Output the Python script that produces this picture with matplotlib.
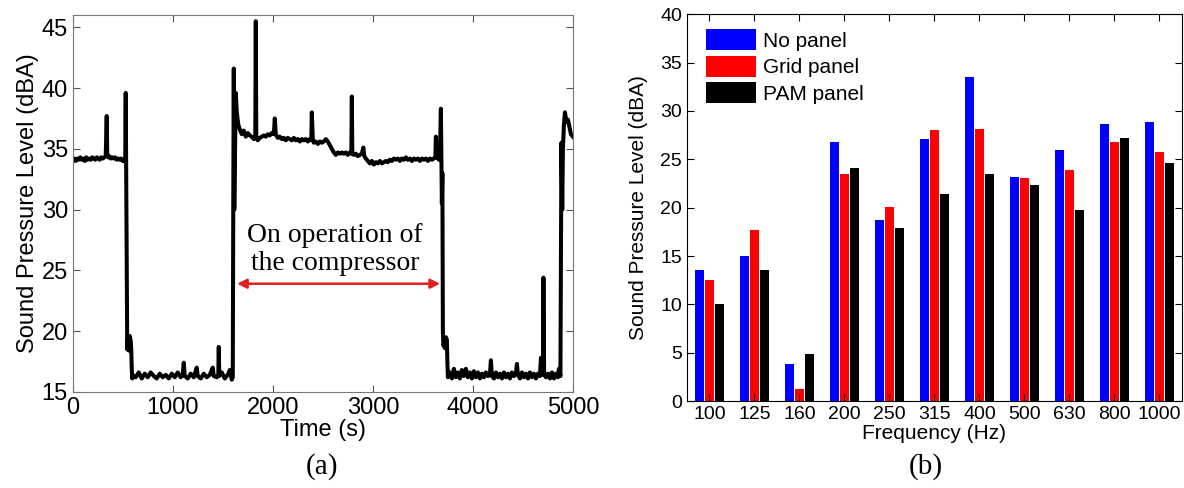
import matplotlib
matplotlib.use('Agg')
import matplotlib.pyplot as plt
import numpy as np

plt.rcParams['font.family'] = ['Liberation Sans', 'DejaVu Sans']

# (a) sound pressure level vs time
time_s = [0, 15, 30, 45, 60, 75, 90, 105, 120, 135, 150, 165, 180, 195, 210, 225, 240, 255, 270, 285,
          300, 315, 330, 340, 345, 350, 355, 365, 380, 395, 410, 425, 440, 455, 470, 485, 500, 515,
          525, 530, 535, 545, 550, 560, 570, 580, 585, 590, 595, 600,
          630, 660, 690, 720, 750, 780, 810, 840, 870, 900, 930, 960, 990, 1020, 1050, 1080, 1100, 1110,
          1120, 1150, 1180, 1210, 1240, 1250, 1280, 1310, 1340, 1370, 1400, 1410, 1440, 1455, 1460, 1465,
          1490, 1520, 1550, 1570, 1590, 1600,
          1605, 1610, 1615, 1620, 1630, 1640, 1655, 1670, 1690, 1710, 1730, 1750, 1770, 1790, 1810, 1825,
          1830, 1835, 1850, 1870, 1890, 1910, 1930, 1950, 1970, 1990, 2010, 2020, 2030, 2050, 2070, 2090,
          2110, 2130, 2150, 2170, 2190, 2210, 2230, 2250, 2270, 2290, 2310, 2330, 2350, 2370, 2385, 2390,
          2400, 2410, 2430, 2450, 2470, 2490, 2510, 2530, 2550, 2570, 2590, 2610, 2630, 2650, 2670, 2690,
          2710, 2730, 2750, 2770, 2785, 2790, 2795, 2810, 2830, 2850, 2870, 2890, 2905, 2915, 2930, 2950,
          2970, 2990, 3010, 3030, 3050, 3070, 3090, 3110, 3130, 3150, 3170, 3190, 3210, 3230, 3250, 3270,
          3290, 3310, 3330, 3350, 3370, 3390, 3410, 3430, 3450, 3470, 3490, 3510, 3530, 3550, 3570, 3590,
          3610, 3625, 3630, 3640, 3660, 3670, 3680, 3690, 3695, 3700, 3705, 3715, 3720, 3730, 3740, 3745,
          3750, 3770, 3790, 3810, 3830, 3850, 3870, 3890, 3910, 3930, 3950, 3970, 3990, 4010, 4030, 4050,
          4070, 4090, 4110, 4130, 4150, 4170, 4180, 4190, 4210, 4230, 4250, 4270, 4290, 4310, 4330, 4350,
          4370, 4390, 4410, 4430, 4440, 4450, 4470, 4490, 4510, 4530, 4550, 4570, 4590, 4610, 4630, 4650,
          4670, 4680, 4690, 4700, 4705, 4712, 4730, 4750, 4770, 4790, 4810, 4830, 4850, 4860, 4875,
          4885, 4893, 4900, 4910, 4920, 4935, 4950, 4965, 4980, 5000]
spl_dba = [34.0, 34.2, 34.0, 34.2, 34.1, 34.3, 34.1, 34.2, 34.0, 34.3, 34.1, 34.2, 34.1, 34.3, 34.2, 34.1, 34.3, 34.2, 34.1, 34.3,
           34.2, 34.3, 34.4, 37.7, 34.6, 34.5, 34.3, 34.4, 34.2, 34.3, 34.2, 34.3, 34.1, 34.2, 34.1, 34.2, 34.0, 34.1,
           33.9, 39.6, 33.0, 18.5, 19.3, 18.4, 19.6, 19.2, 18.5, 17.0, 16.1, 16.4,
           16.2, 16.6, 16.1, 16.5, 16.2, 16.6, 16.3, 16.1, 16.5, 16.2, 16.4, 16.1, 16.5, 16.2, 16.6, 16.2, 16.4, 17.4,
           16.3, 16.1, 16.5, 16.2, 17.0, 16.3, 16.1, 16.5, 16.2, 16.4, 17.0, 16.3, 16.2, 16.3, 18.7, 16.3,
           16.6, 16.1, 16.4, 16.8, 16.0, 16.2,
           30.5, 41.6, 30.0, 33.0, 39.6, 38.0, 37.0, 36.6, 36.2, 36.5, 36.0, 36.3, 36.1, 36.0, 35.8, 36.0,
           45.5, 35.9, 35.7, 35.9, 36.0, 36.1, 36.0, 36.2, 36.1, 36.3, 36.2, 37.5, 36.2, 35.9, 36.0, 35.8,
           35.9, 35.7, 35.9, 35.8, 35.7, 35.9, 35.7, 35.8, 35.6, 35.8, 35.7, 35.8, 35.6, 35.8, 35.7, 38.0,
           35.8, 35.5, 35.6, 35.4, 35.6, 35.5, 35.6, 35.8, 35.6, 35.3, 35.0, 34.7, 34.5, 34.7, 34.6, 34.7,
           34.6, 34.7, 34.5, 34.7, 34.6, 39.3, 34.6, 34.5, 34.6, 34.4, 34.5, 34.6, 35.1, 34.4, 34.2, 34.0,
           33.8, 34.0, 33.7, 33.9, 33.8, 34.0, 33.8, 33.9, 34.0, 33.9, 34.1, 34.0, 34.2, 34.1, 34.2, 34.0,
           34.2, 34.1, 34.3, 34.1, 34.2, 34.0, 34.2, 34.1, 34.2, 34.0, 34.2, 34.1, 34.2, 34.0, 34.2, 34.1,
           34.2, 34.3, 36.0, 34.3, 34.1, 34.3, 38.3, 30.5, 33.0, 20.0, 18.8, 19.0, 18.6, 19.5, 19.3, 17.5,
           16.2, 16.6, 16.1, 16.9, 16.2, 16.6, 16.1, 16.8, 16.3, 16.9, 16.2, 16.6, 16.1, 16.7, 16.2, 16.6,
           16.1, 16.5, 16.2, 16.6, 16.3, 16.4, 17.6, 16.3, 16.1, 16.6, 16.2, 16.5, 16.1, 16.6, 16.2, 16.5,
           16.1, 16.6, 16.3, 16.5, 17.3, 16.4, 16.1, 16.6, 16.2, 16.5, 16.1, 16.6, 16.2, 16.5, 16.1, 16.5,
           16.3, 17.8, 16.6, 16.4, 24.4, 16.4, 16.2, 16.5, 16.1, 16.6, 16.1, 16.5, 16.2, 16.9, 16.3,
           35.5, 30.0, 35.0, 37.0, 38.0, 37.2, 37.4, 36.8, 36.2, 36.0]

# (b) one-third octave band levels
freq_labels = ['100', '125', '160', '200', '250', '315', '400', '500', '630', '800', '1000']
no_panel = [13.6, 15.0, 3.8, 26.8, 18.7, 27.1, 33.5, 23.2, 26.0, 28.6, 28.9]
grid_panel = [12.5, 17.7, 1.3, 23.5, 20.1, 28.0, 28.1, 23.1, 23.9, 26.8, 25.7]
pam_panel = [10.0, 13.6, 4.9, 24.1, 17.9, 21.4, 23.5, 22.3, 19.8, 27.2, 24.6]

fig = plt.figure(figsize=(11.84, 4.88), dpi=100)

# ---- panel (a)
ax1 = fig.add_axes([0.0614, 0.197, 0.4225, 0.772])
ax1.plot(time_s, spl_dba, color='black', linewidth=2.9)
ax1.set_xlim(0, 5000)
ax1.set_ylim(15, 46)
ax1.set_xticks(range(0, 5001, 1000))
ax1.set_yticks(range(15, 46, 5))
ax1.tick_params(direction='in', top=True, right=True, labelsize=17, length=5, color='#555555')
for s in ax1.spines.values():
    s.set_color('#777777')
ax1.set_xlabel('Time (s)', fontsize=17, labelpad=0)
ax1.set_ylabel('Sound Pressure Level (dBA)', fontsize=17, labelpad=2)
ax1.annotate('', xy=(1615, 23.9), xytext=(3700, 23.9),
             arrowprops=dict(arrowstyle='<|-|>', color='#e02020', lw=1.8, mutation_scale=14))
ax1.text(2620, 26.7, 'On operation of\nthe compressor', family='Liberation Serif',
         fontsize=20, ha='center', va='center', linespacing=1.15)
fig.text(0.272, 0.045, '(a)', family='Liberation Serif', fontsize=21, ha='center', va='center')

# ---- panel (b)
ax2 = fig.add_axes([0.5802, 0.178, 0.4181, 0.793])
x = np.arange(len(freq_labels))
w = 0.206
ax2.bar(x - 0.222, no_panel, w, color='#0000ff', label='No panel')
ax2.bar(x, grid_panel, w, color='#ff0000', label='Grid panel')
ax2.bar(x + 0.222, pam_panel, w, color='#000000', label='PAM panel')
ax2.set_xlim(-0.5, 10.5)
ax2.set_ylim(0, 40)
ax2.set_xticks(x)
ax2.set_xticklabels(freq_labels)
ax2.set_yticks(range(0, 41, 5))
ax2.tick_params(direction='in', top=True, right=True, labelsize=14, length=5)
ax2.set_xlabel('Frequency (Hz)', fontsize=15, labelpad=1)
ax2.set_ylabel('Sound Pressure Level (dBA)', fontsize=15, labelpad=9)
ax2.legend(loc='upper left', bbox_to_anchor=(0.039, 0.961), frameon=False, fontsize=15,
           borderaxespad=0, borderpad=0, handlelength=2.4, handleheight=1.15,
           labelspacing=0.25, handletextpad=0.3)
fig.text(0.782, 0.045, '(b)', family='Liberation Serif', fontsize=21, ha='center', va='center')

fig.savefig('out.png', dpi=100)
